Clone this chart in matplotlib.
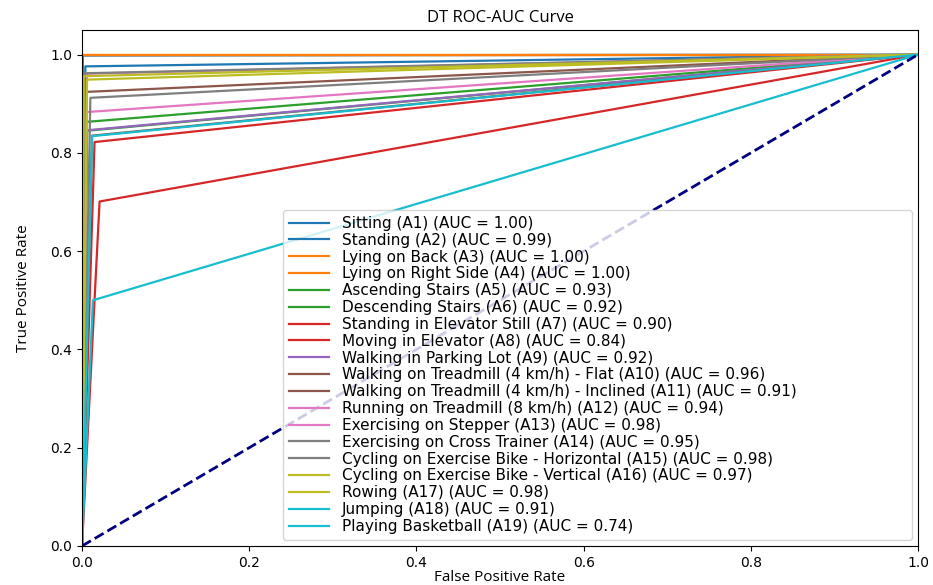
import matplotlib
matplotlib.use("Agg")
import numpy as np
import matplotlib.pyplot as plt

# Per-activity operating points of the decision tree (one-vs-rest)
activities = [
    "Sitting (A1)",
    "Standing (A2)",
    "Lying on Back (A3)",
    "Lying on Right Side (A4)",
    "Ascending Stairs (A5)",
    "Descending Stairs (A6)",
    "Standing in Elevator Still (A7)",
    "Moving in Elevator (A8)",
    "Walking in Parking Lot (A9)",
    "Walking on Treadmill (4 km/h) - Flat (A10)",
    "Walking on Treadmill (4 km/h) - Inclined (A11)",
    "Running on Treadmill (8 km/h) (A12)",
    "Exercising on Stepper (A13)",
    "Exercising on Cross Trainer (A14)",
    "Cycling on Exercise Bike - Horizontal (A15)",
    "Cycling on Exercise Bike - Vertical (A16)",
    "Rowing (A17)",
    "Jumping (A18)",
    "Playing Basketball (A19)",
]
fpr_point = [0.001, 0.004, 0.0, 0.0, 0.005, 0.006, 0.015, 0.021, 0.006, 0.004,
             0.012, 0.005, 0.006, 0.010, 0.003, 0.006, 0.002, 0.012, 0.013]
tpr_point = [0.998, 0.976, 1.0, 1.0, 0.863, 0.845, 0.822, 0.701, 0.846, 0.924,
             0.835, 0.883, 0.961, 0.912, 0.962, 0.949, 0.956, 0.834, 0.500]
colors = ["#1f77b4", "#1f77b4", "#ff7f0e", "#ff7f0e", "#2ca02c", "#2ca02c",
          "#d62728", "#d62728", "#9467bd", "#8c564b", "#8c564b", "#e377c2",
          "#e377c2", "#7f7f7f", "#7f7f7f", "#bcbd22", "#bcbd22", "#17becf",
          "#17becf"]

fig = plt.figure(figsize=(9.33, 5.85), dpi=100)
ax = fig.add_axes([0.0879, 0.0667, 0.8961, 0.882])

for name, f, t, c in zip(activities, fpr_point, tpr_point, colors):
    fpr = np.array([0.0, f, 1.0])
    tpr = np.array([0.0, t, 1.0])
    roc_auc = np.trapezoid(tpr, fpr)
    ax.plot(fpr, tpr, color=c, lw=1.6, label=f"{name} (AUC = {roc_auc:.2f})")

ax.plot([0, 1], [0, 1], color="navy", lw=2, linestyle="--")

ax.set_xlim(0.0, 1.0)
ax.set_ylim(0.0, 1.05)
ax.set_xlabel("False Positive Rate", family=["Open Sans", "DejaVu Sans"],
              fontsize=11, labelpad=0)
ax.set_ylabel("True Positive Rate", family=["Liberation Sans Narrow", "Open Sans"],
              fontsize=11, labelpad=14)
ax.set_title("DT ROC-AUC Curve", family=["Open Sans", "DejaVu Sans"], fontsize=12)

ax.legend(loc="lower left", bbox_to_anchor=(0.2404, 0.0116, 0.7526, 0.65),
          mode="expand", borderaxespad=0, fontsize=11, labelspacing=0.12,
          handlelength=2.6, handletextpad=0.85)

fig.savefig("out.png", dpi=100)
